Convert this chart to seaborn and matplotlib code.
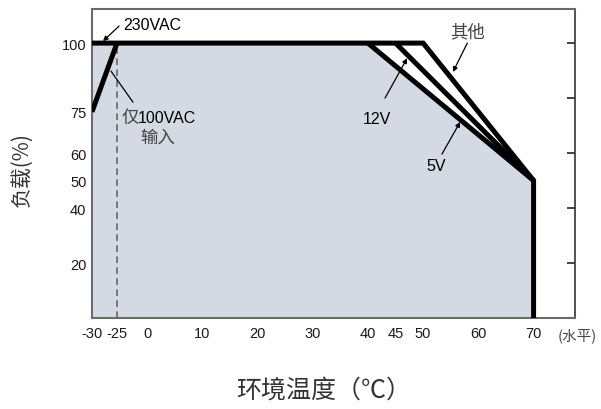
import numpy as np
import matplotlib
matplotlib.use("Agg")
import matplotlib.pyplot as plt
import seaborn as sns

# ---------------- data ----------------
other_temp = [-30, 50, 70, 70]          # 230VAC / 其他
other_load = [100, 100, 50, 0]
v12_temp = [45, 70]
v12_load = [100, 50]
v5_temp = [40, 70]
v5_load = [100, 50]
vac100_temp = [-30, -25]
vac100_load = [75, 100]
fill_temp = [-30, 40, 70]
fill_load = [100, 100, 50]

xticks = [-30, -25, 0, 10, 20, 30, 40, 45, 50, 60, 70]
yticks_left = [20, 40, 50, 60, 75, 100]
yticks_right = [20, 40, 60, 80, 100]

# ---------------- style ----------------
sns.set_theme(style="white")
plt.rcParams["font.family"] = ["Liberation Sans", "Noto Sans CJK SC", "DejaVu Sans"]
LATIN = ["Liberation Sans", "DejaVu Sans"]
CJK = ["Noto Sans CJK SC", "DejaVu Sans"]

fig = plt.figure(figsize=(6.01, 4.10), dpi=100)
ax = fig.add_axes([92 / 601, 1 - 319 / 410, 483 / 601, 309 / 410])

# piecewise (broken) temperature axis
XB = np.array([-30.0, -25.0, 0.0, 80.0])
PB = np.array([0.0, 25.0, 55.0, 55.0 + 80 * 5.52])


def fwd(x):
    return np.interp(np.asarray(x, dtype=float), XB, PB)


def inv(p):
    return np.interp(np.asarray(p, dtype=float), PB, XB)


ax.set_xscale("function", functions=(fwd, inv))
ax.set_xlim(-30, 77.5)
ax.set_ylim(0, 112.4)

# fill area
ax.fill_between(fill_temp, fill_load, 0, color="#d4dae3", lw=0, zorder=1)

# dashed -25 line
ax.plot([-25, -25], [0, 100], color="#666666", lw=1.2, ls=(0, (4, 2.6)), zorder=2)

LW = 3.6
for xs, ys in [(other_temp, other_load), (v12_temp, v12_load), (v5_temp, v5_load),
               (vac100_temp, vac100_load)]:
    sns.lineplot(x=xs, y=ys, ax=ax, color="black", lw=LW, sort=False,
                 estimator=None, zorder=3, solid_joinstyle="miter",
                 solid_capstyle="butt")

# ticks
ax.set_xticks(xticks)
ax.set_xticklabels([str(t) for t in xticks])
ax.set_yticks(yticks_left)
ax.set_yticklabels([str(t) for t in yticks_left])
ax.tick_params(axis="x", direction="in", length=6, width=1.2, color="#555555",
               pad=6, labelsize=10.5, labelcolor="#1a1a1a")
ax.tick_params(axis="y", direction="in", length=6, width=1.2, color="#555555",
               pad=4, labelsize=10.5, labelcolor="#1a1a1a")
for lab in ax.get_xticklabels() + ax.get_yticklabels():
    lab.set_family(LATIN)

sec = ax.secondary_yaxis("right")
sec.set_yticks(yticks_right)
sec.set_yticklabels([])
sec.tick_params(direction="in", length=6, width=1.1, color="#111111")
sec.spines["right"].set_color("#333333")
sec.spines["right"].set_linewidth(1.2)

for side in ["left", "bottom", "top"]:
    ax.spines[side].set_color("#6b6b6b")
    ax.spines[side].set_linewidth(1.5)
    ax.spines[side].set_visible(True)
ax.spines["right"].set_visible(False)
ax.grid(False)

# ---------------- annotations ----------------
arrow = dict(arrowstyle="-|>", color="black", lw=0.9, mutation_scale=7,
             shrinkA=0, shrinkB=0)
line_only = dict(arrowstyle="-", color="black", lw=0.9, shrinkA=0, shrinkB=0)
FS = 11.5

ax.annotate("", xy=(-27.8, 100.7), xytext=(-23.3, 106.2), arrowprops=arrow, zorder=5)
ax.text(-20.0, 106.6, "230VAC", ha="left", va="center", fontsize=FS,
        family=LATIN, color="black")

ax.annotate("", xy=(-26.2, 89.8), xytext=(-11.7, 78.5), arrowprops=line_only, zorder=5)
ax.text(-20.8, 73.1, "仅", ha="left", va="center", fontsize=12.5, family=CJK,
        color="#444444", fontweight="light")
ax.text(-7.5, 73.1, "100VAC", ha="left", va="center", fontsize=FS,
        family=LATIN, color="black")
ax.text(2.0, 65.8, "输入", ha="center", va="center", fontsize=12.5, family=CJK,
        color="#444444", fontweight="light")

ax.annotate("", xy=(47.1, 94.5), xytext=(43.1, 80.0), arrowprops=arrow, zorder=5)
ax.text(41.7, 72.4, "12V", ha="center", va="center", fontsize=FS,
        family=LATIN, color="black")

ax.annotate("", xy=(56.7, 71.3), xytext=(53.4, 59.6), arrowprops=arrow, zorder=5)
ax.text(52.4, 55.3, "5V", ha="center", va="center", fontsize=FS,
        family=LATIN, color="black")

ax.annotate("", xy=(55.4, 89.5), xytext=(58.0, 100.0), arrowprops=arrow, zorder=5)
ax.text(58.0, 104.2, "其他", ha="center", va="center", fontsize=12.5, family=CJK,
        color="#444444", fontweight="light")

fig.text(577 / 601, 1 - 336 / 410, "(水平)", ha="center", va="center",
         fontsize=10.5, family=CJK, color="#444444", fontweight="light")

fig.text(324 / 601, 1 - 391 / 410, "环境温度（℃）", ha="center", va="center",
         fontsize=18, family=CJK, color="#333333", fontweight="light")
fig.text(22 / 601, 1 - 170 / 410, "负载(%)", ha="center", va="center",
         rotation=90, fontsize=15, family=CJK, color="#333333", fontweight="light")

fig.savefig("out.png", dpi=100)
